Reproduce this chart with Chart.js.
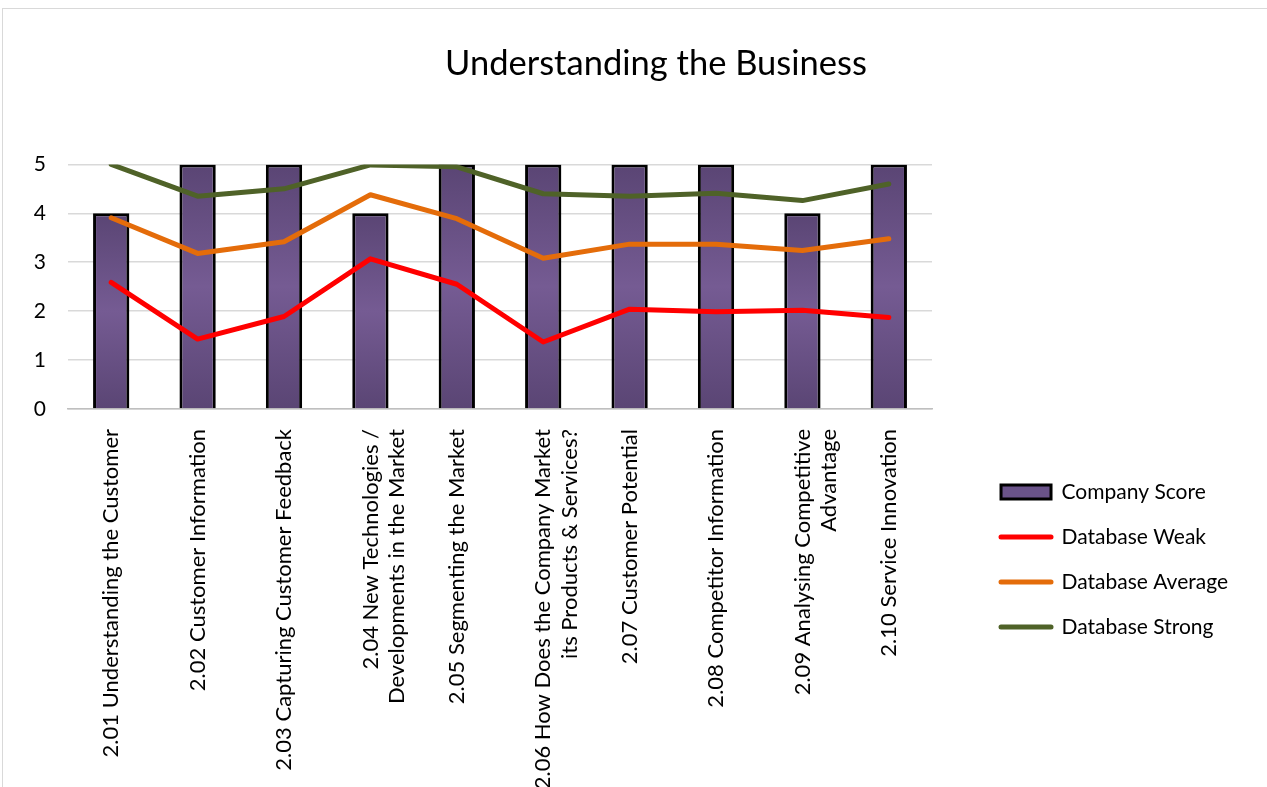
<!DOCTYPE html>
<html>
<head>
<meta charset="utf-8">
<script src="https://cdn.jsdelivr.net/npm/chart.js@4/dist/chart.umd.min.js"></script>
<style>
  html, body { margin: 0; padding: 0; background: #fff; overflow: hidden; }
  #frame { position: absolute; left: 2px; top: 8px; width: 1400px; height: 1200px; border: 1px solid #d9d9d9; }
  #businessChart { position: absolute; left: 0; top: 0; }
</style>
</head>
<body>
<div id="frame"></div>
<canvas id="businessChart" width="1238" height="1119"></canvas>
<script>
var categories = [
    '2.01 Understanding the Customer',
    '2.02 Customer Information',
    '2.03 Capturing Customer Feedback',
    ['2.04 New Technologies /', 'Developments in the Market'],
    '2.05 Segmenting the Market',
    ['2.06 How Does the Company Market', 'its Products & Services?'],
    '2.07 Customer Potential',
    '2.08 Competitor Information',
    ['2.09 Analysing Competitive', 'Advantage'],
    '2.10 Service Innovation'
];
var companyScore = [4, 5, 5, 4, 5, 5, 5, 5, 4, 5];
var databaseWeak = [2.59, 1.43, 1.89, 3.07, 2.55, 1.37, 2.04, 1.99, 2.02, 1.87];
var databaseAverage = [3.91, 3.18, 3.42, 4.38, 3.89, 3.08, 3.37, 3.37, 3.24, 3.48];
var databaseStrong = [5.00, 4.35, 4.50, 4.99, 4.95, 4.40, 4.35, 4.41, 4.26, 4.60];
var yTicks = [0, 1, 2, 3, 4, 5];

var FONT = 'Lato, "Open Sans", sans-serif';

// purple bar fill, dark at both ends and lighter through the middle
function barFill(ctx) {
    var chart = ctx.chart;
    if (!chart.chartArea || ctx.type !== 'data') return '#6a5389';
    var y = chart.scales.y;
    var top = y.getPixelForValue(ctx.raw);
    var base = y.getPixelForValue(0);
    var g = chart.ctx.createLinearGradient(0, top, 0, base);
    g.addColorStop(0, '#5a4574');
    g.addColorStop(0.5, '#755b93');
    g.addColorStop(1, '#5a4574');
    return g;
}

// keep the title centred over the whole framed chart
var titleCenter = {
    id: 'titleCenter',
    afterLayout: function (chart) {
        var t = chart.titleBlock;
        var dx = 656 - (t.left + t.right) / 2;
        t.left += dx;
        t.right += dx;
    }
};

function lineSet(label, values, color) {
    return {
        type: 'line',
        label: label,
        data: values,
        borderColor: color,
        backgroundColor: color,
        borderWidth: 5,
        pointRadius: 0,
        borderCapStyle: 'round',
        borderJoinStyle: 'round',
        order: 0
    };
}

var ctx = document.getElementById('businessChart');
var bizChart = new Chart(ctx, {
    type: 'bar',
    data: {
        labels: categories,
        datasets: [{
            label: 'Company Score',
            data: companyScore,
            backgroundColor: barFill,
            borderColor: '#000000',
            borderWidth: 3,
            barPercentage: 0.42,
            categoryPercentage: 1,
            order: 1
        },
        lineSet('Database Weak', databaseWeak, '#ff0000'),
        lineSet('Database Average', databaseAverage, '#e46c0a'),
        lineSet('Database Strong', databaseStrong, '#4f6228')]
    },
    options: {
        responsive: false,
        animation: false,
        events: [],
        plugins: {
            title: {
                display: true,
                text: 'Understanding the Business',
                color: '#000',
                font: { family: FONT, size: 34.5, weight: 'normal', lineHeight: 1.2 },
                padding: { top: 43, bottom: 80 }
            },
            legend: {
                position: 'right',
                maxWidth: 400,
                labels: {
                    color: '#000',
                    font: { family: FONT, size: 21 },
                    usePointStyle: true,
                    pointStyleWidth: 50,
                    boxHeight: 14,
                    padding: 24,
                    sort: function (a, b) { return a.datasetIndex - b.datasetIndex; },
                    generateLabels: function (chart) {
                        var items = Chart.defaults.plugins.legend.labels.generateLabels(chart);
                        items.forEach(function (item) {
                            if (item.datasetIndex === 0) {
                                item.pointStyle = 'rect';
                                item.fillStyle = '#6a5389';
                                item.strokeStyle = '#000';
                                item.lineWidth = 3;
                            } else {
                                item.pointStyle = 'line';
                                item.lineWidth = 5;
                                item.lineCap = 'round';
                            }
                        });
                        return items;
                    }
                }
            },
            tooltip: { enabled: false }
        },
        scales: {
            x: {
                offset: true,
                grid: { display: false },
                border: { color: '#bfbfbf', width: 1.5 },
                ticks: {
                    color: '#000',
                    font: { family: FONT, size: 22 },
                    minRotation: 90,
                    maxRotation: 90,
                    autoSkip: false,
                    padding: 12
                },
                afterFit: function (s) { s.height = 1119 - 409; }
            },
            y: {
                min: 0,
                max: 5,
                afterBuildTicks: function (s) {
                    s.ticks = yTicks.map(function (v) { return { value: v }; });
                },
                grid: { color: '#d9d9d9', lineWidth: 1.5, drawTicks: false },
                border: { display: false },
                ticks: {
                    color: '#000',
                    font: { family: FONT, size: 21 },
                    padding: 22
                },
                afterFit: function (s) { s.width = 68; }
            },
            // empty strip between the plot and the legend
            gap: {
                position: 'right',
                display: true,
                grid: { display: false },
                border: { display: false },
                ticks: { display: false },
                afterFit: function (s) { s.width = 45; }
            }
        }
    },
    plugins: [titleCenter]
});
</script>
</body>
</html>
